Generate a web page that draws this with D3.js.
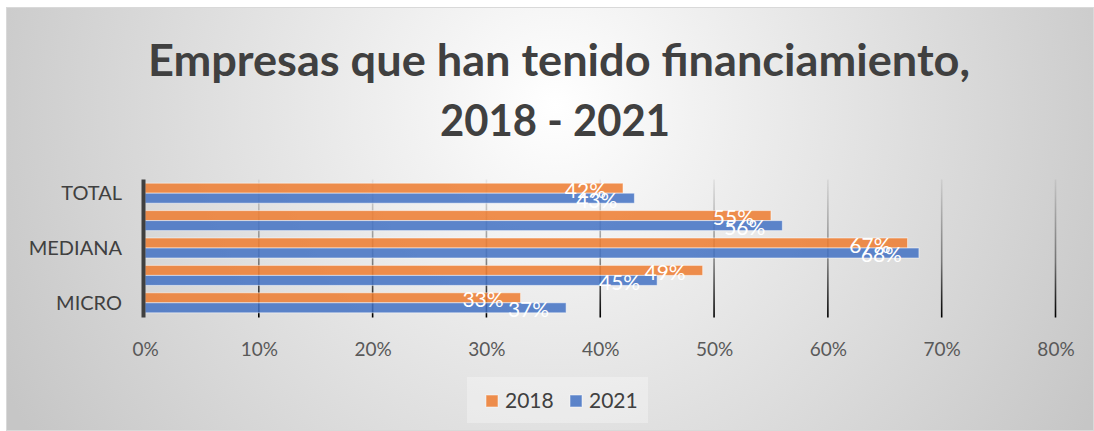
<!DOCTYPE html>
<html><head><meta charset="utf-8">
<script src="https://cdn.jsdelivr.net/npm/d3@7"></script>
<style>
html,body{margin:0;padding:0;background:#fff;}
svg{display:block;font-family:Lato,"Open Sans",sans-serif;}
</style></head>
<body>
<svg id="chart" width="1094" height="431"></svg>
<script>
const categories = ["TOTAL", "GRANDE", "MEDIANA", "PEQUEÑA", "MICRO"];
const shownCategories = ["TOTAL", "MEDIANA", "MICRO"];
const seriesNames = ["2018", "2021"];
const values2018 = [42, 55, 67, 49, 33];
const values2021 = [43, 56, 68, 45, 37];
const xTicks = [0, 10, 20, 30, 40, 50, 60, 70, 80];
const titleLines = ["Empresas que han tenido financiamiento,", "2018 - 2021"];
const colors = ["#ED7D31", "#4472C4"];

const svg = d3.select("#chart");
const defs = svg.append("defs");

const bg = defs.append("radialGradient").attr("id", "bg")
  .attr("gradientUnits", "userSpaceOnUse")
  .attr("cx", 555).attr("cy", 105).attr("r", 620);
bg.append("stop").attr("offset", "0").attr("stop-color", "#ffffff");
bg.append("stop").attr("offset", "0.22").attr("stop-color", "#f2f2f2");
bg.append("stop").attr("offset", "1").attr("stop-color", "#c6c6c6");

const plotTop = 179.5, plotBottom = 316.5;
const gg = defs.append("linearGradient").attr("id", "grid")
  .attr("gradientUnits", "userSpaceOnUse")
  .attr("x1", 0).attr("x2", 0).attr("y1", plotTop).attr("y2", plotBottom);
gg.append("stop").attr("offset", "0").attr("stop-color", "#000").attr("stop-opacity", 0.06);
gg.append("stop").attr("offset", "0.6").attr("stop-color", "#000").attr("stop-opacity", 0.45);
gg.append("stop").attr("offset", "1").attr("stop-color", "#000").attr("stop-opacity", 1);

svg.append("rect").attr("x", 6.5).attr("y", 7.5).attr("width", 1087).attr("height", 423)
  .attr("fill", "url(#bg)").attr("stroke", "#d9d9d9").attr("stroke-width", 1);

// Title
const title = svg.append("g");
title.append("text").attr("x", 559).attr("y", 76).attr("text-anchor", "middle")
  .attr("font-size", 44).attr("font-weight", "bold").attr("fill", "#404040")
  .attr("textLength", 822).attr("lengthAdjust", "spacingAndGlyphs").text(titleLines[0]);
title.append("text").attr("x", 555).attr("y", 136).attr("text-anchor", "middle")
  .attr("font-size", 44).attr("font-weight", "bold").attr("fill", "#404040")
  .attr("textLength", 230).attr("lengthAdjust", "spacingAndGlyphs").text(titleLines[1]);

const x = d3.scaleLinear().domain([0, 80]).range([145, 1055.5]);
const y = d3.scaleBand().domain(categories).range([plotTop, plotBottom]).paddingInner(0.27).paddingOuter(0.135);
const ys = d3.scaleBand().domain(seriesNames).range([0, y.bandwidth()]);

// gridlines
svg.append("g").selectAll("line").data(xTicks.filter(t => t > 0)).join("line")
  .attr("x1", d => x(d)).attr("x2", d => x(d)).attr("y1", plotTop).attr("y2", plotBottom + 1)
  .attr("stroke", "url(#grid)").attr("stroke-width", 1.6);

// bars
const data = categories.map((c, i) => ({cat: c, vals: [values2018[i], values2021[i]]}));
const groups = svg.append("g").selectAll("g").data(data).join("g")
  .attr("transform", d => `translate(0,${y(d.cat)})`);
groups.selectAll("rect").data(d => d.vals.map((v, j) => ({v, s: seriesNames[j], j}))).join("rect")
  .attr("x", x(0)).attr("y", d => ys(d.s)).attr("width", d => x(d.v) - x(0)).attr("height", ys.bandwidth())
  .attr("fill", d => colors[d.j]).attr("fill-opacity", 0.86)
  .attr("stroke", "#ffffff").attr("stroke-opacity", 0.5).attr("stroke-width", 1);
groups.selectAll("text").data(d => d.vals.map((v, j) => ({v, s: seriesNames[j], j}))).join("text")
  .attr("x", d => x(d.v) - 17).attr("y", d => ys(d.s) + ys.bandwidth() / 2 + 9.5)
  .attr("text-anchor", "end").attr("font-size", 21).attr("fill", "#ffffff")
  .text(d => d.v + "%");

// y axis line
svg.append("line").attr("x1", 143.5).attr("x2", 143.5).attr("y1", plotTop).attr("y2", plotBottom + 1)
  .attr("stroke", "#404040").attr("stroke-width", 4);

// y axis labels
const yAxis = svg.append("g").attr("transform", "translate(122,0)")
  .call(d3.axisLeft(y).tickValues(shownCategories).tickSize(0).tickPadding(0));
yAxis.select(".domain").remove();
yAxis.selectAll("text").attr("font-size", 20).attr("fill", "#404040")
  .attr("font-family", "Lato, sans-serif").attr("dy", "0.36em");

// x axis labels
const xAxis = svg.append("g").attr("transform", "translate(0,340)")
  .call(d3.axisBottom(x).tickValues(xTicks).tickSize(0).tickPadding(0).tickFormat(d => d + "%"));
xAxis.select(".domain").remove();
xAxis.selectAll("text").attr("font-size", 19).attr("fill", "#595959")
  .attr("font-family", "Lato, sans-serif").attr("dy", "0.85em");

// legend
const legend = svg.append("g");
legend.append("rect").attr("x", 467).attr("y", 377).attr("width", 181).attr("height", 46)
  .attr("fill", "#ffffff").attr("fill-opacity", 0.3);
const lx = [485, 569];
seriesNames.forEach((s, j) => {
  legend.append("rect").attr("x", lx[j] + 1).attr("y", 395).attr("width", 12).attr("height", 12)
    .attr("fill", colors[j]).attr("fill-opacity", 0.86).attr("stroke", "#fff").attr("stroke-opacity", 0.5);
  legend.append("text").attr("x", lx[j] + 20).attr("y", 408).attr("font-size", 21)
    .attr("fill", "#404040").text(s);
});
</script>
</body></html>
